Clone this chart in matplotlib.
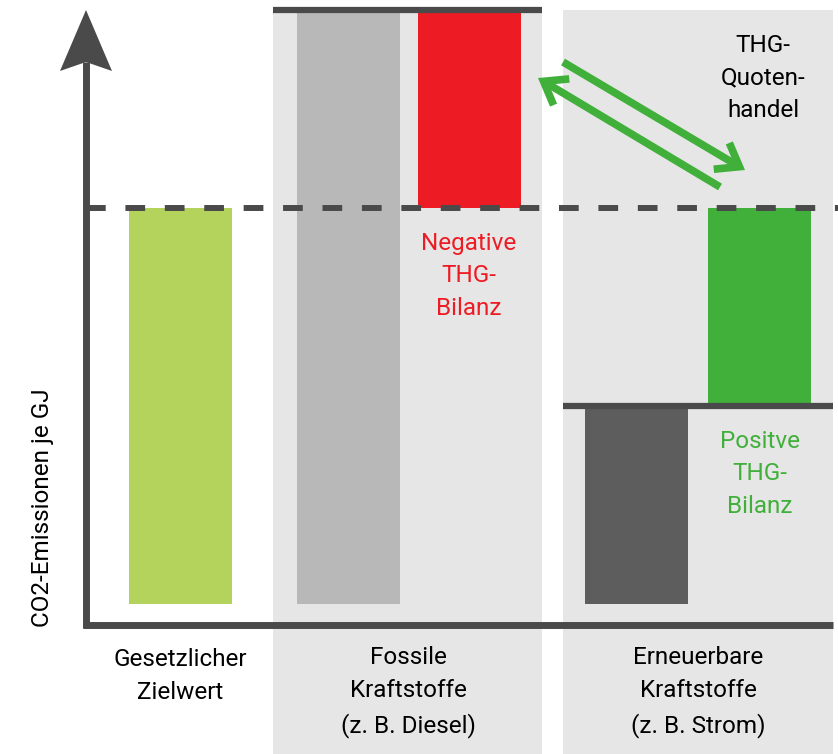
import matplotlib
matplotlib.use("Agg")
import matplotlib.pyplot as plt
from matplotlib.patches import FancyArrowPatch, Rectangle

# ---- data (relative CO2 emissions per GJ, target = 100) ----
categories = ["Gesetzlicher\nZielwert", "Fossile\nKraftstoffe\n(z. B. Diesel)",
              "Erneuerbare\nKraftstoffe\n(z. B. Strom)"]
target_value = 100
fossil_value = 150
renewable_value = 50
ylabel = "CO2-Emissionen je GJ"
negative_label = "Negative\nTHG-\nBilanz"
positive_label = "Positve\nTHG-\nBilanz"
trade_label = "THG-\nQuoten-\nhandel"

# ---- colours ----
c_axis = "#4a4a4a"
c_panel = "#e6e6e6"
c_target = "#b3d35c"
c_fossil = "#b8b8b8"
c_red = "#ed1c24"
c_dark = "#5d5d5d"
c_green = "#41b03b"

W, H = 838, 754
fig = plt.figure(figsize=(W / 100, H / 100), dpi=100)
ax = fig.add_axes([0, 0, 1, 1])
# y in value units: baseline pixel 604 -> 0, 3.96 px per unit
base_px, scale = 604, 3.96
def py(p):
    return (base_px - p) / scale
ax.set_xlim(0, W)
ax.set_ylim(py(H), py(0))
ax.axis("off")

plt.rcParams["font.family"] = ["Roboto", "DejaVu Sans"]
fs = 17.5

# background panels
ax.add_patch(Rectangle((273, py(754)), 269, py(11) - py(754), color=c_panel, lw=0, zorder=0))
ax.add_patch(Rectangle((563, py(754)), 270, py(10) - py(754), color=c_panel, lw=0, zorder=0))

bw = 103
# bars
ax.bar(180.5, target_value, width=bw, bottom=0, color=c_target, zorder=2)
ax.bar(348, fossil_value, width=bw, bottom=0, color=c_fossil, zorder=2)
ax.bar(469, fossil_value - target_value, width=bw, bottom=target_value, color=c_red, zorder=2)
ax.bar(636, renewable_value, width=bw, bottom=0, color=c_dark, zorder=2)
ax.bar(759.5, target_value - renewable_value, width=bw, bottom=renewable_value, color=c_green, zorder=2)

# level lines
ax.plot([273, 542], [fossil_value, fossil_value], color=c_axis, lw=4.5, solid_capstyle="butt", zorder=3)
ax.plot([563, 833], [renewable_value, renewable_value], color=c_axis, lw=4.5, solid_capstyle="butt", zorder=3)
ax.plot([86, 838], [target_value, target_value], color=c_axis, lw=4.3,
        dashes=(3.3, 3.3), dash_capstyle="butt", zorder=4)

# axes lines
ax.plot([86, 86], [py(628), py(62)], color=c_axis, lw=5, solid_capstyle="butt", zorder=5)
ax.plot([83, 833], [py(625), py(625)], color=c_axis, lw=5, solid_capstyle="butt", zorder=5)
ax.fill([86, 112, 86, 60], [py(10), py(71), py(62), py(71)], color=c_axis, lw=0, zorder=5)

# trade arrows
for (x0, y0), (x1, y1) in [((563, 62), (745, 170)), ((720, 187), (538, 78))]:
    arr = FancyArrowPatch((x0, py(y0)), (x1, py(y1)),
                          arrowstyle="->,head_length=0.75,head_width=0.55",
                          color=c_green, lw=5.5, shrinkA=0, shrinkB=0,
                          mutation_scale=20, zorder=6)
    arr.set_joinstyle("miter")
    arr.set_capstyle("butt")
    ax.add_patch(arr)

# texts
ls = 1.55
ax.text(469, py(276), negative_label, color=c_red, fontsize=fs, ha="center", va="center", linespacing=ls)
ax.text(759.5, py(474), positive_label, color=c_green, fontsize=fs, ha="center", va="center", linespacing=ls)
ax.text(763, py(78), trade_label, color="black", fontsize=fs, ha="center", va="center", linespacing=ls)

ax.text(180.5, py(676), categories[0], fontsize=fs, ha="center", va="center", linespacing=ls)
ax.text(408, py(692), categories[1], fontsize=fs, ha="center", va="center", linespacing=ls)
ax.text(698, py(692), categories[2], fontsize=fs, ha="center", va="center", linespacing=ls)

ax.text(42, py(508), ylabel, fontsize=fs, ha="center", va="center", rotation=90)

fig.savefig("out.png", dpi=100)
